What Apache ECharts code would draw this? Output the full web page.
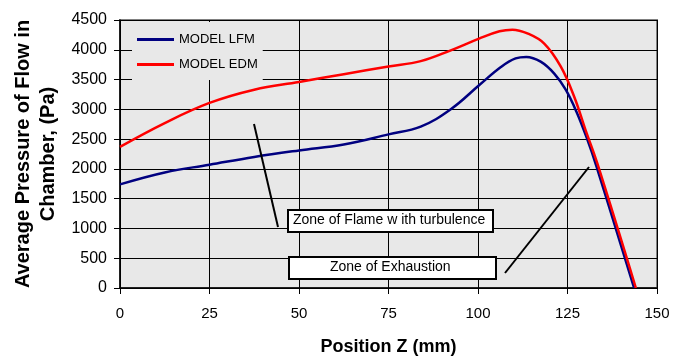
<!DOCTYPE html>
<html>
<head>
<meta charset="utf-8">
<script src="https://cdn.jsdelivr.net/npm/echarts@6/dist/echarts.min.js"></script>
<style>
  html, body { margin: 0; padding: 0; background: #fff; }
  #main { width: 684px; height: 356px; }
</style>
</head>
<body>
<div id="main"></div>
<script>
// axis ticks
const xTicks = [0, 25, 50, 75, 100, 125, 150];
const yTicks = [0, 500, 1000, 1500, 2000, 2500, 3000, 3500, 4000, 4500];

// [position Z (mm), pressure (Pa)]
const modelLFM = [
  [0, 1740], [12.5, 1940], [25, 2070], [37.5, 2200], [50, 2310],
  [62.5, 2410], [75, 2580], [84, 2710], [92.4, 3002], [100.3, 3404],
  [106.4, 3711], [110.5, 3855], [113.5, 3880], [117.5, 3800], [121.3, 3600],
  [124.5, 3330], [127.5, 2960], [130.5, 2500], [133, 2060], [143.6, 0]
];
const modelEDM = [
  [0, 2370], [12.5, 2770], [25, 3108], [37.5, 3330], [50, 3460],
  [62.5, 3590], [75, 3720], [84, 3810], [92.4, 3991], [100.3, 4187],
  [106, 4310], [109.6, 4338], [113.8, 4275], [118.5, 4104], [123.1, 3720],
  [126.9, 3208], [130, 2660], [133.4, 2080], [144.1, 0]
];

const font = "'Liberation Sans', Arial, sans-serif";
const chart = echarts.init(document.getElementById("main"));

let option = {
  animation: false,
  textStyle: { fontFamily: font },
  grid: {
    left: 120, right: 27, top: 20, bottom: 68,
    outerBoundsMode: "none",
    containLabel: false,
    show: true,
    backgroundColor: "#e8e8e8",
    borderColor: "#808080",
    borderWidth: 2
  },
  legend: {
    orient: "vertical",
    left: 132, top: 22,
    padding: [10, 5, 8, 5],
    backgroundColor: "#e8e8e8",
    icon: "rect",
    itemWidth: 37, itemHeight: 3, itemGap: 10,
    textStyle: { fontSize: 13, lineHeight: 15, color: "#000", fontFamily: font },
    data: ["MODEL LFM", "MODEL EDM"]
  },
  xAxis: {
    type: "value",
    min: xTicks[0], max: xTicks[xTicks.length - 1], interval: 25,
    name: "Position Z (mm)",
    nameLocation: "middle",
    nameGap: 50,
    nameTextStyle: { fontSize: 18, fontWeight: "bold", color: "#000", fontFamily: font },
    axisLine: { onZero: false, lineStyle: { color: "#000", width: 1.5 } },
    axisTick: { show: true, length: 6, lineStyle: { color: "#000" } },
    axisLabel: { fontSize: 15, color: "#000", margin: 18, fontFamily: font },
    splitLine: { show: true, lineStyle: { color: "#000", width: 1 } }
  },
  yAxis: {
    type: "value",
    min: yTicks[0], max: yTicks[yTicks.length - 1], interval: 500,
    name: "Average Pressure of Flow in\nChamber, (Pa)",
    nameLocation: "middle",
    nameGap: 58,
    nameTextStyle: { fontSize: 20, fontWeight: "bold", color: "#000", lineHeight: 25, fontFamily: font },
    axisLine: { show: true, lineStyle: { color: "#000", width: 1.5 } },
    axisTick: { show: true, length: 6, lineStyle: { color: "#000" } },
    axisLabel: { fontSize: 16, color: "#000", margin: 13, fontFamily: font, formatter: (v) => String(v) },
    splitLine: { show: true, lineStyle: { color: "#000", width: 1 } }
  },
  series: [
    {
      name: "MODEL LFM",
      type: "line",
      data: modelLFM,
      smooth: 0.4,
      symbol: "none",
      color: "#000080",
      lineStyle: { width: 2.5 },
      z: 3
    },
    {
      name: "MODEL EDM",
      type: "line",
      data: modelEDM,
      smooth: 0.4,
      symbol: "none",
      color: "#ff0000",
      lineStyle: { width: 2.5 },
      z: 4
    }
  ],
  graphic: [
    // pointer lines
    { type: "line", shape: { x1: 254, y1: 124, x2: 278, y2: 227 }, style: { stroke: "#000", lineWidth: 2 }, z: 10 },
    { type: "line", shape: { x1: 505, y1: 273, x2: 589, y2: 167 }, style: { stroke: "#000", lineWidth: 2 }, z: 10 },
    // annotation boxes
    { type: "rect", shape: { x: 288, y: 210, width: 205, height: 22 }, style: { fill: "#fff", stroke: "#000", lineWidth: 2 }, z: 10 },
    { type: "text", left: 293, top: 213, style: { text: "Zone of Flame w ith turbulence", font: "14px " + font, fill: "#000" }, z: 11 },
    { type: "rect", shape: { x: 289, y: 257, width: 207, height: 22 }, style: { fill: "#fff", stroke: "#000", lineWidth: 2 }, z: 10 },
    { type: "text", left: 330, top: 260, style: { text: "Zone of Exhaustion", font: "14px " + font, fill: "#000" }, z: 11 }
  ]
};
chart.setOption(option);
</script>
</body>
</html>
